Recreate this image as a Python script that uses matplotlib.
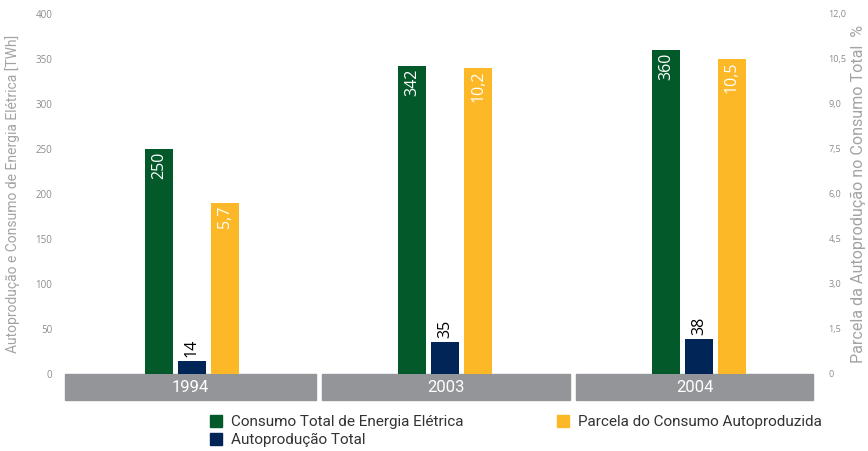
import matplotlib
matplotlib.use("Agg")
import matplotlib.pyplot as plt
from matplotlib.patches import Rectangle, Patch
import numpy as np

years = ["1994", "2003", "2004"]
consumo_total = [250, 342, 360]
autoproducao = [14, 35, 38]
parcela = [5.7, 10.2, 10.5]
parcela_labels = ["5,7", "10,2", "10,5"]
left_ticks = [0, 50, 100, 150, 200, 250, 300, 350, 400]
right_ticks = [0, 1.5, 3.0, 4.5, 6.0, 7.5, 9.0, 10.5, 12.0]
right_tick_labels = ["0", "1,5", "3,0", "4,5", "6,0", "7,5", "9,0", "10,5", "12,0"]
series_names = ["Consumo Total de Energia Elétrica", "Autoprodução Total",
                "Parcela do Consumo Autoproduzida"]

GREEN = "#03592a"
NAVY = "#022557"
YELLOW = "#fdb827"
BAND = "#939598"
TICK = "#8c8c8c"
LABEL = "#a3a3a3"

NARROW = ["Roboto", "DejaVu Sans"]
plt.rcParams["font.family"] = ["Open Sans", "DejaVu Sans"]

W, H = 868, 451
fig = plt.figure(figsize=(W / 100, H / 100), dpi=100)
x_left, x_right = 65, 813
y_zero, y_top = 373.5, 14
ax = fig.add_axes([x_left / W, (H - y_zero) / H, (x_right - x_left) / W, (y_zero - y_top) / H])
ax2 = ax.twinx()

x = np.arange(len(years))
bw = 0.11
off = 0.13

ax.bar(x - off, consumo_total, bw, color=GREEN, zorder=2)
ax.bar(x, autoproducao, bw, color=NAVY, zorder=2)
ax2.bar(x + off, parcela, bw, color=YELLOW, zorder=2)

ax.set_ylim(0, 400)
ax2.set_ylim(0, 12)
ax.set_xlim(-0.5, 2.45)

for i in range(len(years)):
    ax.annotate(str(consumo_total[i]), xy=(x[i] - off, consumo_total[i]), xytext=(0, -2),
                textcoords="offset points", rotation=90, ha="center", va="top",
                color="white", fontsize=11.5)
    ax.annotate(str(autoproducao[i]), xy=(x[i], autoproducao[i]), xytext=(0, 3),
                textcoords="offset points", rotation=90, ha="center", va="bottom",
                color="black", fontsize=11.5)
    ax2.annotate(parcela_labels[i], xy=(x[i] + off, parcela[i]), xytext=(0, -2),
                 textcoords="offset points", rotation=90, ha="center", va="top",
                 color="white", fontsize=11.5)

for a in (ax, ax2):
    for s in a.spines.values():
        s.set_visible(False)
    a.tick_params(length=0)

ax.set_xticks([])
ax.set_yticks(left_ticks)
ax.set_yticklabels([str(t) for t in left_ticks], color=TICK, fontsize=7)
ax.tick_params(axis="y", pad=9)
ax2.set_yticks(right_ticks)
ax2.set_yticklabels(right_tick_labels, color=TICK, fontsize=6.5)
ax2.tick_params(axis="y", pad=11)

yl1 = ax.set_ylabel("Autoprodução e Consumo de Energia Elétrica [TWh]", color=LABEL,
                    fontsize=12, family=NARROW)
yl2 = ax2.set_ylabel("Parcela da Autoprodução no Consumo Total  %", color=LABEL,
                     fontsize=12, family=NARROW)
ax.yaxis.set_label_coords(-(x_left - 20) / (x_right - x_left), 0.5)
ax2.yaxis.set_label_coords(1 + (851 - x_right) / (x_right - x_left), 0.5)

# category bands below the axis
trans = ax.get_xaxis_transform()
band_top = -(374 - y_zero) / (y_zero - y_top)
band_h = (400 - 374) / (y_zero - y_top)
xmin, xmax = ax.get_xlim()
for i, yr in enumerate(years):
    x0 = xmin if i == 0 else i - 0.485
    x1 = min(i + 0.49, xmax)
    ax.add_patch(Rectangle((x0, band_top - band_h), x1 - x0, band_h, transform=trans,
                           color=BAND, clip_on=False, zorder=1))
    ax.text((x0 + x1) / 2, band_top - band_h / 2, yr, transform=trans, ha="center",
            va="center", color="white", fontsize=12, family=NARROW)

handles = [Patch(color=GREEN), Patch(color=NAVY), Patch(color=YELLOW)]


def make_legend(size, colsp):
    lg = fig.legend(handles, series_names, loc="upper left",
                    bbox_to_anchor=(210 / W, (H - 415) / H), ncol=2, frameon=False,
                    prop={"family": NARROW, "size": size}, handlelength=0.8,
                    handleheight=0.8, handletextpad=0.6, labelspacing=0.25,
                    columnspacing=colsp, borderpad=0, borderaxespad=0)
    for t in lg.get_texts():
        t.set_color("#333333")
    return lg


# fit font sizes to the reference text widths
fig.canvas.draw()
r = fig.canvas.get_renderer()
for lab, target in ((yl1, 318), (yl2, 336)):
    h = lab.get_window_extent(r).height
    lab.set_fontsize(lab.get_fontsize() * target / h)

leg = make_legend(12, 5.0)
fig.canvas.draw()
w = leg.get_texts()[0].get_window_extent(r).width
size = 12 * 232 / w
leg.remove()
leg = make_legend(size, 5.0)
fig.canvas.draw()
t0 = leg.get_texts()[0].get_window_extent(r)
t2 = leg.get_texts()[2].get_window_extent(r)
cur_gap = t2.x0 - t0.x1
want_gap = 576 - 462
px_per_em = size * 100 / 72
colsp = 5.0 + (want_gap - cur_gap) / px_per_em
leg.remove()
leg = make_legend(size, colsp)

fig.savefig("out.png", dpi=100)
